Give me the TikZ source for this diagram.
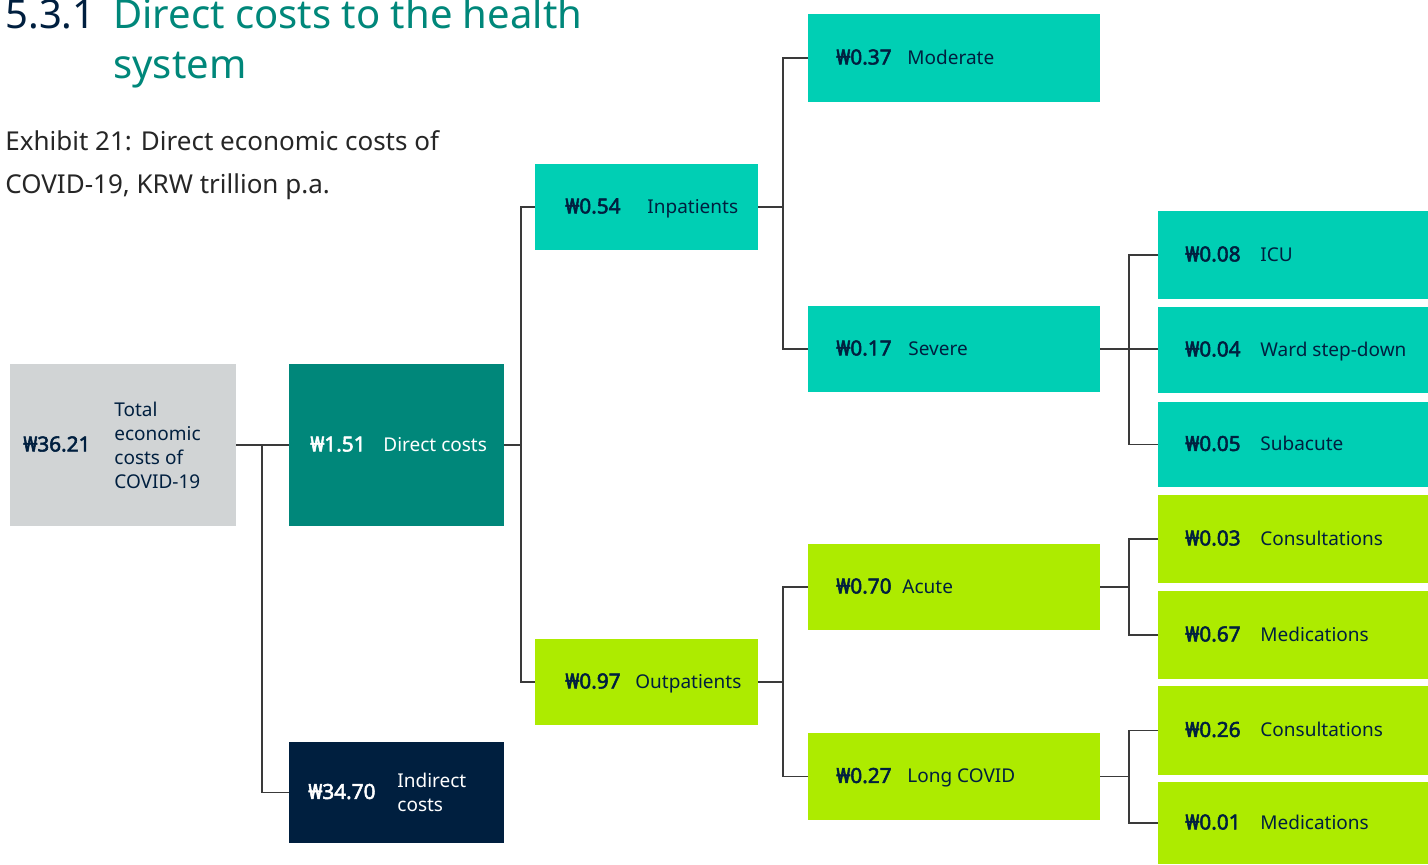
\documentclass[tikz,border=0pt]{standalone}
\usepackage{fontspec}
\setmainfont{Noto Sans}[AutoFakeBold=2.5]
\usetikzlibrary{calc}

\definecolor{kgrey}{HTML}{D1D4D5}
\definecolor{kteal}{HTML}{00877A}
\definecolor{knavy}{HTML}{001F3F}
\definecolor{kaqua}{HTML}{00CFB4}
\definecolor{klime}{HTML}{ADEB00}
\definecolor{kline}{HTML}{3A3A3A}

\tikzset{
  box/.style={anchor=north west, inner sep=0pt, outer sep=0pt},
  size/.style 2 args={minimum width=#1*0.5pt, minimum height=#2*0.5pt},
  val/.style={anchor=west, inner sep=0pt, font=\fontsize{10.4}{12}\selectfont\bfseries,
    text height=1.5ex, text depth=.3ex, text=knavy},
  lab/.style={anchor=west, inner sep=0pt, font=\fontsize{9.5}{11}\selectfont,
    text height=1.5ex, text depth=.3ex, text=knavy},
  multi/.style={anchor=west, inner sep=0pt, align=left,
    font=\fontsize{9.5}{12}\selectfont, text=knavy},
  link/.style={draw=kline, line width=0.65pt},
}

\begin{document}
\begin{tikzpicture}[x=0.5pt, y=-0.5pt]
\useasboundingbox (0,0) rectangle (1428,864);

% heading
\node[anchor=base west, inner sep=0pt, text=knavy, font=\fontsize{20}{25}\selectfont]
  (num) at (5,28) {5.3.1};
\node[anchor=base west, inner sep=0pt, text=kteal, align=left, font=\fontsize{20}{25}\selectfont]
  (title) at (113,78) {Direct costs to the health\\system};
\node[anchor=base west, inner sep=0pt, align=left, text=black!85, font=\fontsize{13}{21.5}\selectfont]
  (exhibit) at (5,193) {Exhibit 21: Direct economic costs of\\COVID-19, KRW trillion p.a.};

% level 0 and 1
\node[box, size={226}{162}, fill=kgrey] (total) at (10,364) {};
\node[val] (total-v) at ($(total.west)+(13,0)$) {₩36.21};
\node[multi] (total-l) at ($(total.west)+(104,0)$) {Total\\economic\\costs of\\COVID-19};

\node[box, size={215}{162}, fill=kteal] (direct) at (289,364) {};
\node[val, text=white] (direct-v) at ($(direct.west)+(21,0)$) {₩1.51};
\node[lab, text=white] (direct-l) at ($(direct.west)+(94,0)$) {Direct costs};

\node[box, size={215}{101}, fill=knavy] (indirect) at (289,742) {};
\node[val, text=white] (indirect-v) at ($(indirect.west)+(19,0)$) {₩34.70};
\node[multi, text=white] (indirect-l) at ($(indirect.west)+(108,0)$) {Indirect\\costs};

% level 2
\node[box, size={223}{86}, fill=kaqua] (inpat) at (535,164) {};
\node[val] (inpat-v) at ($(inpat.west)+(30,0)$) {₩0.54};
\node[lab] (inpat-l) at ($(inpat.west)+(112,0)$) {Inpatients};

\node[box, size={223}{86}, fill=klime] (outpat) at (535,639) {};
\node[val] (outpat-v) at ($(outpat.west)+(30,0)$) {₩0.97};
\node[lab] (outpat-l) at ($(outpat.west)+(100,0)$) {Outpatients};

% level 3
\node[box, size={292}{88}, fill=kaqua] (moderate) at (808,14) {};
\node[val] (moderate-v) at ($(moderate.west)+(28,0)$) {₩0.37};
\node[lab] (moderate-l) at ($(moderate.west)+(99,0)$) {Moderate};

\node[box, size={292}{86}, fill=kaqua] (severe) at (808,306) {};
\node[val] (severe-v) at ($(severe.west)+(28,0)$) {₩0.17};
\node[lab] (severe-l) at ($(severe.west)+(100,0)$) {Severe};

\node[box, size={292}{86}, fill=klime] (acute) at (808,544) {};
\node[val] (acute-v) at ($(acute.west)+(28,0)$) {₩0.70};
\node[lab] (acute-l) at ($(acute.west)+(94,0)$) {Acute};

\node[box, size={292}{87}, fill=klime] (longcov) at (808,733) {};
\node[val] (longcov-v) at ($(longcov.west)+(28,0)$) {₩0.27};
\node[lab] (longcov-l) at ($(longcov.west)+(99,0)$) {Long COVID};

% level 4
\node[box, size={270}{88}, fill=kaqua] (icu) at (1158,211) {};
\node[val] (icu-v) at ($(icu.west)+(27,0)$) {₩0.08};
\node[lab] (icu-l) at ($(icu.west)+(102,0)$) {ICU};

\node[box, size={270}{86}, fill=kaqua] (ward) at (1158,307) {};
\node[val] (ward-v) at ($(ward.west)+(27,0)$) {₩0.04};
\node[lab] (ward-l) at ($(ward.west)+(102,0)$) {Ward step-down};

\node[box, size={270}{85}, fill=kaqua] (subac) at (1158,402) {};
\node[val] (subac-v) at ($(subac.west)+(27,0)$) {₩0.05};
\node[lab] (subac-l) at ($(subac.west)+(102,0)$) {Subacute};

\node[box, size={270}{88}, fill=klime] (cons1) at (1158,495) {};
\node[val] (cons1-v) at ($(cons1.west)+(27,0)$) {₩0.03};
\node[lab] (cons1-l) at ($(cons1.west)+(102,0)$) {Consultations};

\node[box, size={270}{88}, fill=klime] (meds1) at (1158,591) {};
\node[val] (meds1-v) at ($(meds1.west)+(27,0)$) {₩0.67};
\node[lab] (meds1-l) at ($(meds1.west)+(102,0)$) {Medications};

\node[box, size={270}{89}, fill=klime] (cons2) at (1158,686) {};
\node[val] (cons2-v) at ($(cons2.west)+(27,0)$) {₩0.26};
\node[lab] (cons2-l) at ($(cons2.west)+(102,0)$) {Consultations};

\node[box, size={270}{82}, fill=klime] (meds2) at (1158,782) {};
\node[val] (meds2-v) at ($(meds2.west)+(27,0)$) {₩0.01};
\node[lab] (meds2-l) at ($(meds2.west)+(102,0)$) {Medications};

% connectors
\coordinate (j0) at ($(total.east)+(26,0)$);
\coordinate (j1) at ($(direct.east)+(17,0)$);
\coordinate (j2) at ($(inpat.east)+(25,0)$);
\coordinate (j3) at ($(outpat.east)+(25,0)$);
\coordinate (j4) at ($(severe.east)+(29,0)$);
\coordinate (j5) at ($(acute.east)+(29,0)$);
\coordinate (j6) at ($(longcov.east)+(29,0)$);

\draw[link] (total.east) -- (direct.west);
\draw[link] (j0) |- (indirect.west);
\draw[link] (direct.east) -- (j1) |- (inpat.west);
\draw[link] (j1) |- (outpat.west);
\draw[link] (inpat.east) -- (j2) |- (moderate.west);
\draw[link] (j2) |- (severe.west);
\draw[link] (outpat.east) -- (j3) |- (acute.west);
\draw[link] (j3) |- (longcov.west);
\draw[link] (severe.east) -- (ward.west |- severe.east);
\draw[link] (j4) |- (icu.west);
\draw[link] (j4) |- (subac.west);
\draw[link] (acute.east) -- (j5) |- (cons1.west);
\draw[link] (j5) |- (meds1.west);
\draw[link] (longcov.east) -- (j6) |- (cons2.west);
\draw[link] (j6) |- (meds2.west);
\end{tikzpicture}
\end{document}
